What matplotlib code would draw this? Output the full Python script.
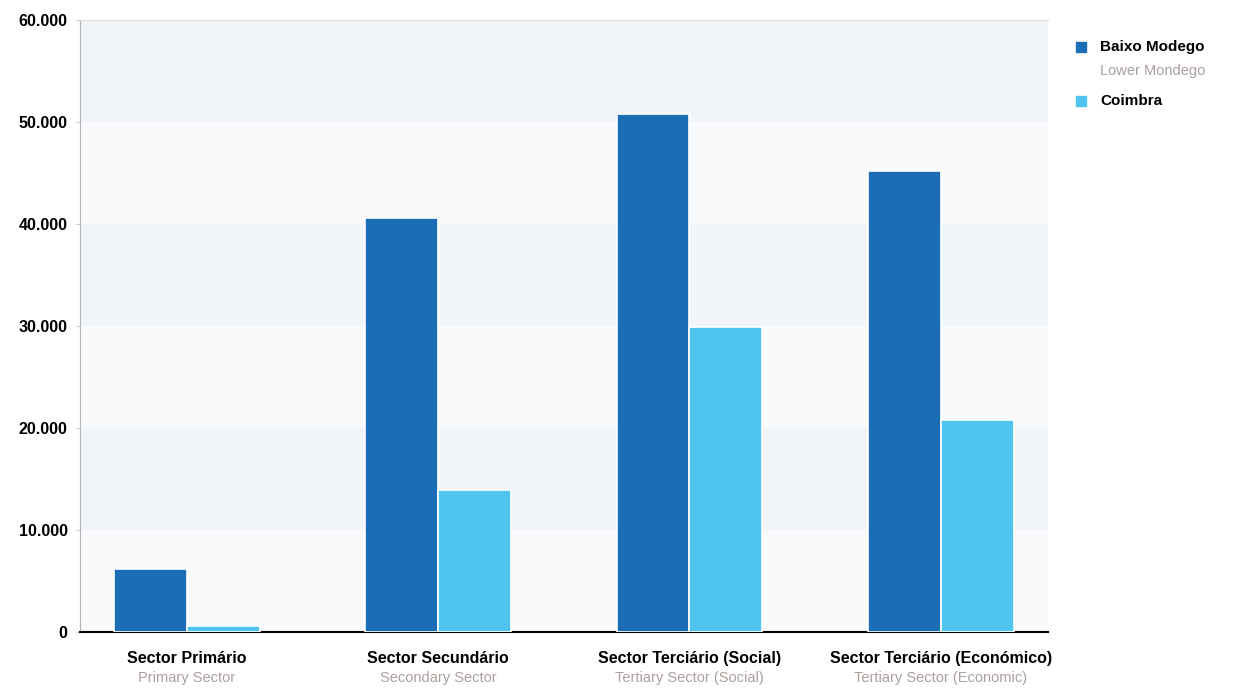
import matplotlib.pyplot as plt
import numpy as np

plt.rcParams['font.family'] = ['Liberation Sans', 'DejaVu Sans']

# Data
sectors_pt = ['Sector Primário', 'Sector Secundário',
              'Sector Terciário (Social)', 'Sector Terciário (Económico)']
sectors_en = ['Primary Sector', 'Secondary Sector',
              'Tertiary Sector (Social)', 'Tertiary Sector (Economic)']
baixo_mondego = [6200, 40600, 50800, 45200]
coimbra = [600, 13900, 29900, 20800]
yticks = [0, 10000, 20000, 30000, 40000, 50000, 60000]
ytick_labels = ['0', '10.000', '20.000', '30.000', '40.000', '50.000', '60.000']

dark_blue = '#1b6db5'
light_blue = '#4ec4ef'

fig = plt.figure(figsize=(12.39, 6.96), dpi=100)
ax = fig.add_axes([0.0646, 0.092, 0.781, 0.879])

ax.set_facecolor('#f8fafc')
# faint horizontal bands in the background
for lo in range(0, 60000, 20000):
    ax.axhspan(lo + 10000, lo + 20000, color='#f1f4f8', zorder=0, lw=0)

x = np.arange(len(sectors_pt))
w = 0.29
ax.bar(x - w / 2, baixo_mondego, w, color=dark_blue, edgecolor='white',
       linewidth=1.2, zorder=3)
ax.bar(x + w / 2, coimbra, w, color=light_blue, edgecolor='white',
       linewidth=1.2, zorder=3)

ax.set_xlim(-0.426, 3.426)
ax.set_ylim(0, 60000)
ax.set_yticks(yticks)
ax.set_yticklabels(ytick_labels, fontsize=11.5, fontweight='bold')
ax.tick_params(axis='y', length=3, color='#cccccc', pad=6)
ax.set_xticks([])

ax.spines['left'].set_color('#b5b5b5')
ax.spines['right'].set_visible(False)
ax.spines['top'].set_color('#dddddd')
ax.spines['bottom'].set_color('black')
ax.spines['bottom'].set_linewidth(1.5)

# two-line category labels
for i in range(len(sectors_pt)):
    ax.annotate(sectors_pt[i], (x[i], 0), xytext=(0, -19), textcoords='offset points',
                ha='center', va='center', fontsize=11.5, fontweight='bold',
                annotation_clip=False)
    ax.annotate(sectors_en[i], (x[i], 0), xytext=(0, -33), textcoords='offset points',
                ha='center', va='center', fontsize=10.5, color='#aaa09c',
                annotation_clip=False)

# legend
fig.patches.append(plt.Rectangle((1076 / 1239, 1 - 52 / 696), 10 / 1239, 10 / 696,
                                 color=dark_blue, transform=fig.transFigure))
fig.text(1100 / 1239, 1 - 47 / 696, 'Baixo Modego', fontsize=11,
         fontweight='bold', va='center')
fig.text(1100 / 1239, 1 - 71 / 696, 'Lower Mondego', fontsize=10.5,
         color='#aaa09c', va='center')
fig.patches.append(plt.Rectangle((1076 / 1239, 1 - 106 / 696), 10 / 1239, 10 / 696,
                                 color=light_blue, transform=fig.transFigure))
fig.text(1100 / 1239, 1 - 101 / 696, 'Coimbra', fontsize=11,
         fontweight='bold', va='center')

fig.savefig('out.png', dpi=100)
